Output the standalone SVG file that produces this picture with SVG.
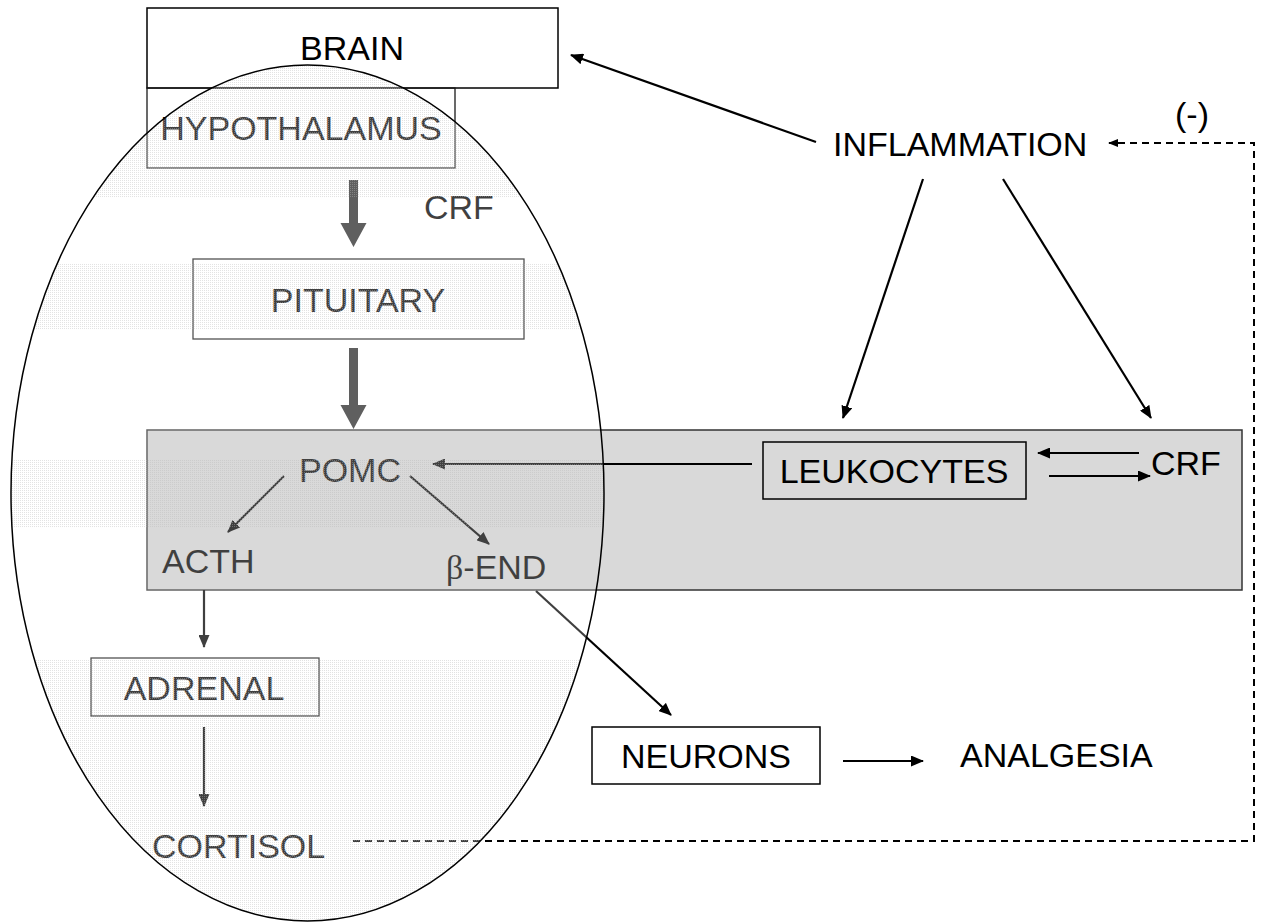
<svg xmlns="http://www.w3.org/2000/svg" width="1261" height="923" viewBox="0 0 1261 923">
<style>
  .t { font-family: "Liberation Sans", Arial, sans-serif; font-size: 34px; fill: #000; }
  .box { fill: none; stroke: #000; stroke-width: 1.5; }
  .ibox { fill: none; stroke: #1a1a1a; stroke-width: 1.3; }
  .ln { fill: none; stroke: #000; stroke-width: 2.2; marker-end: url(#ah); }
  .dash { fill: none; stroke: #000; stroke-width: 2; stroke-dasharray: 7 5; }
  .thick { fill: #2a2a2a; }
</style>
<defs>
  <marker id="ah" viewBox="0 0 13 11" refX="12" refY="5.5" markerWidth="13" markerHeight="11" markerUnits="userSpaceOnUse" orient="auto">
    <path d="M0,0 L13,5.5 L0,11 z" fill="#000"/>
  </marker>
  <marker id="ahs" viewBox="0 0 10 8" refX="9" refY="4" markerWidth="10" markerHeight="8" markerUnits="userSpaceOnUse" orient="auto">
    <path d="M0,0 L10,4 L0,8 z" fill="#000"/>
  </marker>
  <pattern id="dots" width="2" height="2" patternUnits="userSpaceOnUse">
    <rect x="0" y="0" width="1" height="1" fill="#b8b8b8"/>
  </pattern>
  <clipPath id="ellClip">
    <ellipse cx="307.5" cy="493" rx="296.5" ry="428"/>
  </clipPath>
</defs>
<rect x="0" y="0" width="1261" height="923" fill="#fff"/>

<g id="band">
  <rect x="147" y="430" width="1095" height="160" fill="#d9d9d9" stroke="#333" stroke-width="1.5"/>
  <rect x="148" y="431" width="460" height="158" fill="#cccccc" clip-path="url(#ellClip)"/>
</g>

<g id="brain">
  <rect class="box" x="147" y="8" width="411" height="80" fill="#fff"/>
  <text class="t" x="352" y="60" text-anchor="middle">BRAIN</text>
</g>
<g id="hypothalamus">
  <rect class="ibox" x="147" y="88" width="308" height="80"/>
  <text class="t" x="301" y="140" text-anchor="middle">HYPOTHALAMUS</text>
</g>
<g id="crf-label">
  <text class="t" x="424" y="219">CRF</text>
</g>
<g id="pituitary">
  <rect class="ibox" x="193" y="259" width="331" height="80"/>
  <text class="t" x="358" y="312" text-anchor="middle">PITUITARY</text>
</g>
<g id="pomc">
  <text class="t" x="299" y="482">POMC</text>
</g>
<g id="acth">
  <text class="t" x="162" y="573">ACTH</text>
</g>
<g id="bend">
  <text class="t" x="446" y="579"><tspan font-family="'Liberation Serif', 'Times New Roman', serif">β</tspan>-END</text>
</g>
<g id="adrenal">
  <rect class="ibox" x="91" y="658" width="228" height="58"/>
  <text class="t" x="204" y="700" text-anchor="middle">ADRENAL</text>
</g>
<g id="cortisol">
  <text class="t" x="152" y="858">CORTISOL</text>
</g>
<g id="inflammation">
  <text class="t" x="833" y="156">INFLAMMATION</text>
</g>
<g id="minus">
  <text class="t" x="1175" y="126">(-)</text>
</g>
<g id="leukocytes">
  <rect class="box" x="763" y="442" width="263" height="57"/>
  <text class="t" x="894" y="483" text-anchor="middle">LEUKOCYTES</text>
</g>
<g id="crf-leuko">
  <text class="t" x="1151" y="475">CRF</text>
</g>
<g id="neurons">
  <rect class="box" x="592" y="727" width="228" height="57"/>
  <text class="t" x="706" y="768" text-anchor="middle">NEURONS</text>
</g>
<g id="analgesia">
  <text class="t" x="960" y="767">ANALGESIA</text>
</g>

<g id="connectors">
  <polygon class="thick" points="349,180 358,180 358,223 366.5,223 353.5,247 340.5,223 349,223"/>
  <polygon class="thick" points="349,348 358,348 358,405 366.5,405 353.5,429 340.5,405 349,405"/>
  <line class="ln" x1="816" y1="142" x2="571" y2="55"/>
  <line class="ln" x1="923" y1="179" x2="843" y2="418"/>
  <line class="ln" x1="1003" y1="179" x2="1151" y2="418"/>
  <line class="ln" x1="752" y1="464" x2="433" y2="464"/>
  <line class="ln" x1="1139" y1="453" x2="1038" y2="453"/>
  <line class="ln" x1="1049" y1="476" x2="1150" y2="476"/>
  <line class="ln" x1="284" y1="476" x2="228" y2="532"/>
  <line class="ln" x1="410" y1="476" x2="489" y2="544"/>
  <line class="ln" x1="204" y1="590" x2="204" y2="647"/>
  <line class="ln" x1="204" y1="727" x2="204" y2="806"/>
  <line class="ln" x1="536" y1="591" x2="671" y2="715"/>
  <line class="ln" x1="843" y1="761" x2="923" y2="761"/>
  <polyline class="dash" points="353,841 1254,841 1254,143 1109,143" marker-end="url(#ahs)"/>
</g>

<g id="hpa-ellipse">
  <ellipse cx="307.5" cy="493" rx="296.5" ry="428" fill="#fff" fill-opacity="0.25"/>
  <g clip-path="url(#ellClip)" opacity="0.4">
    <rect x="0" y="60" width="620" height="137" fill="url(#dots)"/>
    <rect x="0" y="263" width="620" height="67" fill="url(#dots)"/>
    <rect x="0" y="460" width="620" height="68" fill="url(#dots)"/>
    <rect x="0" y="659" width="620" height="265" fill="url(#dots)"/>
  </g>
  <ellipse cx="307.5" cy="493" rx="296.5" ry="428" fill="none" stroke="#000" stroke-width="1.5"/>
</g>
</svg>
